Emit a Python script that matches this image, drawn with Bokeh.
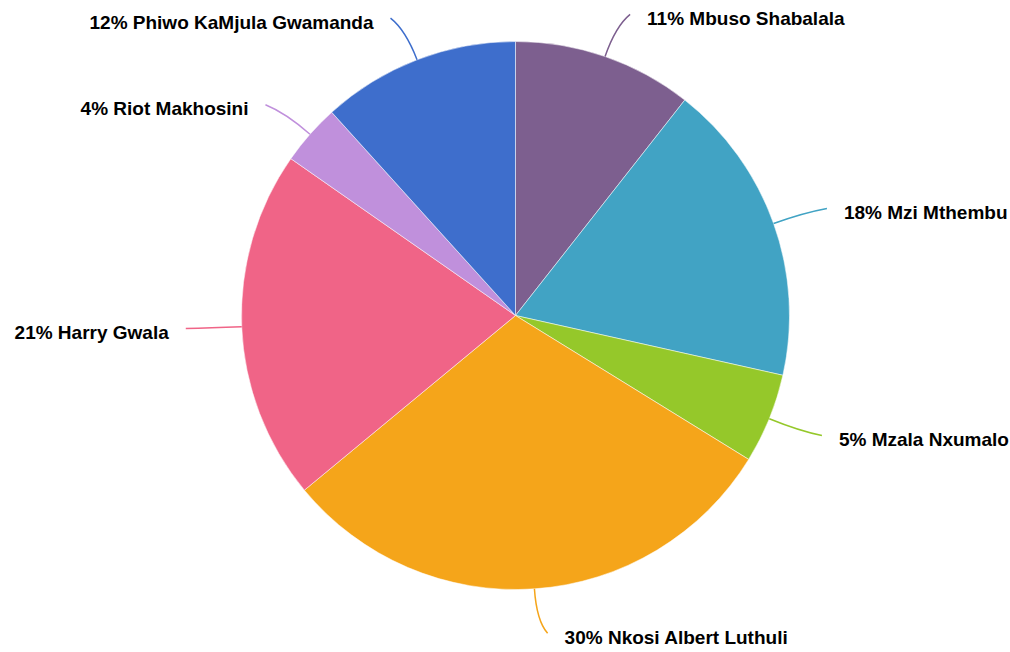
import math
from bokeh.plotting import figure
from bokeh.models import ColumnDataSource, Range1d
from bokeh.core.properties import value
from bokeh.embed import file_html
from bokeh.resources import INLINE

names = ["Mbuso Shabalala", "Mzi Mthembu", "Mzala Nxumalo", "Nkosi Albert Luthuli",
         "Harry Gwala", "Riot Makhosini", "Phiwo KaMjula Gwamanda"]
values = [10.6, 17.9, 5.3, 30.2, 20.7, 3.6, 11.7]
colors = ["#7d5f8f", "#41a3c4", "#95c82a", "#f5a51a", "#f06487", "#c090dc", "#3e6ecc"]

W, H = 1010, 652
cx, cy, R = 515, 652 - 315, 274

total = sum(values)
starts, ends, mids = [], [], []
cum = 0.0
for v in values:
    a0 = math.pi / 2 - 2 * math.pi * cum / total
    cum += v
    a1 = math.pi / 2 - 2 * math.pi * cum / total
    starts.append(a0)
    ends.append(a1)
    mids.append((a0 + a1) / 2)

p = figure(width=W, height=H, output_backend="svg", toolbar_location=None,
           x_range=Range1d(0, W), y_range=Range1d(0, H), min_border=0)
p.axis.visible = False
p.grid.visible = False
p.outline_line_color = None

src = ColumnDataSource(dict(start=starts, end=ends, color=colors))
p.wedge(x=cx, y=cy, radius=R, radius_units="screen", start_angle="start", end_angle="end",
        direction="clock", fill_color="color", line_color="white", line_alpha=0.5,
        line_width=1, source=src)

for n, v, m, c in zip(names, values, mids, colors):
    ca, sa = math.cos(m), math.sin(m)
    sx, sy = cx + R * ca, cy + R * sa
    kx, ky = cx + (R + 32) * ca, cy + (R + 32) * sa
    side = 1 if ca >= 0 else -1
    ex, ey = cx + (R + 46) * ca + side * 10, cy + (R + 46) * sa
    ey = ky + (ey - ky) * 0.9
    p.quadratic(x0=[sx], y0=[sy], x1=[ex], y1=[ey], cx=[kx], cy=[ky], line_color=c, line_width=1.5)
    label = "%d%% %s" % (round(100 * v / total), n)
    lx = ex + side * 17
    p.text(x=[lx], y=[ey - 4], text=[label], text_font=value("Liberation Sans"),
           text_font_style="bold", text_font_size="19px", text_color="#000000",
           text_baseline="middle", text_align="left" if side > 0 else "right")

open("out.html", "w").write(file_html(p, INLINE))
